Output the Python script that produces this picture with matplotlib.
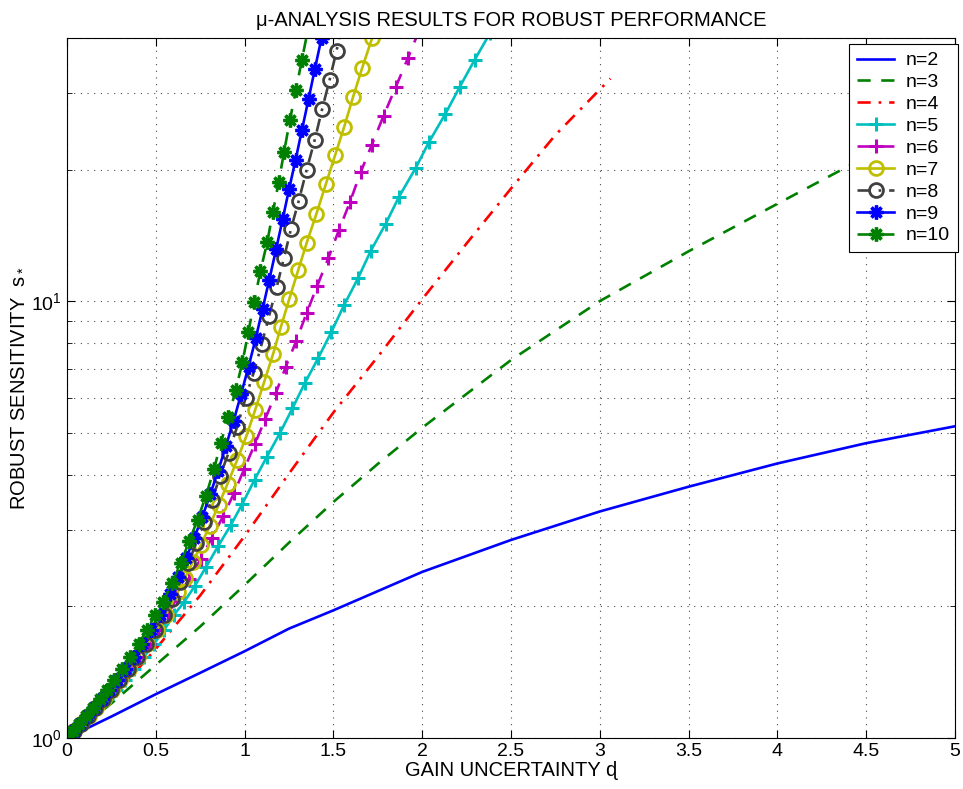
import matplotlib.pyplot as plt
from matplotlib.ticker import FixedLocator, LogLocator, NullFormatter

plt.rcParams['font.family'] = ['Liberation Sans', 'DejaVu Sans']

# gain uncertainty d (x) and robust sensitivity s* (y), one pair per order n
d2 = [0, 0.25, 0.5, 0.75, 1.0, 1.25, 1.5, 2.0, 2.5, 3.0, 3.5, 4.0, 4.5, 5.0]
s2 = [1.0, 1.12, 1.26, 1.41, 1.58, 1.78, 1.96, 2.40, 2.84, 3.30, 3.76, 4.25, 4.73, 5.17]

d3 = [0, 0.25, 0.5, 0.75, 1.0, 1.25, 1.5, 1.75, 2.0, 2.5, 3.0, 3.5, 4.0, 4.5, 5.0]
s3 = [1.0, 1.20, 1.47, 1.80, 2.24, 2.80, 3.47, 4.24, 5.13, 7.33, 10.0, 13.0, 16.7, 21.4, 26.9]

d4 = [0, 0.25, 0.5, 0.75, 1.0, 1.25, 1.5, 1.75, 2.0, 2.25, 2.5, 2.75, 3.06]
s4 = [1.0, 1.23, 1.60, 2.12, 2.90, 4.03, 5.56, 7.46, 10.1, 13.55, 18.1, 24.0, 32.3]

d5 = [0, 0.043, 0.085, 0.132, 0.177, 0.227, 0.274, 0.324, 0.379, 0.434, 0.490, 0.548, 0.603,
      0.660, 0.720, 0.782, 0.851, 0.922, 0.988, 1.056, 1.125, 1.198, 1.269, 1.339, 1.413,
      1.488, 1.560, 1.638, 1.711, 1.794, 1.869, 1.963, 2.038, 2.131, 2.212, 2.296, 2.381]
s5 = [1.0, 1.038, 1.077, 1.123, 1.172, 1.228, 1.288, 1.359, 1.440, 1.534, 1.643, 1.769, 1.915,
      2.05, 2.23, 2.46, 2.75, 3.07, 3.44, 3.90, 4.40, 4.98, 5.68, 6.49, 7.39,
      8.49, 9.79, 11.27, 13.05, 15.02, 17.32, 20.16, 23.12, 26.85, 30.96, 35.7, 41.0]

d6 = [0, 0.040, 0.080, 0.124, 0.166, 0.213, 0.257, 0.304, 0.355, 0.407, 0.460, 0.514, 0.566,
      0.622, 0.688, 0.754, 0.816, 0.881, 0.941, 0.997, 1.057, 1.115, 1.175, 1.232, 1.291,
      1.349, 1.409, 1.471, 1.531, 1.593, 1.653, 1.717, 1.782, 1.850, 1.920, 1.987]
s6 = [1.0, 1.038, 1.077, 1.123, 1.172, 1.228, 1.288, 1.359, 1.440, 1.534, 1.643, 1.769, 1.915,
      2.10, 2.316, 2.574, 2.875, 3.23, 3.64, 4.12, 4.70, 5.36, 6.15, 7.08, 8.11,
      9.39, 10.84, 12.53, 14.54, 16.84, 19.71, 22.82, 26.53, 30.83, 36.03, 42.06]

d7 = [0, 0.040, 0.079, 0.122, 0.163, 0.209, 0.253, 0.299, 0.350, 0.401, 0.453, 0.506, 0.557,
      0.624, 0.665, 0.709, 0.755, 0.803, 0.854, 0.904, 0.957, 1.010, 1.059, 1.110, 1.160,
      1.204, 1.252, 1.301, 1.350, 1.404, 1.457, 1.509, 1.561, 1.610, 1.662, 1.719, 1.770]
s7 = [1.0, 1.038, 1.077, 1.123, 1.172, 1.228, 1.288, 1.359, 1.440, 1.534, 1.643, 1.769, 1.915,
      2.16, 2.33, 2.53, 2.77, 3.06, 3.42, 3.82, 4.32, 4.91, 5.63, 6.53, 7.56,
      8.72, 10.13, 11.75, 13.61, 15.83, 18.50, 21.54, 25.08, 29.26, 34.18, 40.11, 46.99]

d8 = [0, 0.039, 0.077, 0.119, 0.160, 0.205, 0.247, 0.293, 0.342, 0.392, 0.443, 0.495, 0.545,
      0.592, 0.637, 0.682, 0.727, 0.772, 0.817, 0.862, 0.910, 0.958, 1.006, 1.051, 1.096,
      1.138, 1.180, 1.222, 1.261, 1.305, 1.349, 1.394, 1.437, 1.478, 1.518, 1.551]
s8 = [1.0, 1.038, 1.077, 1.123, 1.172, 1.228, 1.288, 1.359, 1.440, 1.534, 1.643, 1.769, 1.915,
      2.08, 2.28, 2.51, 2.79, 3.12, 3.51, 3.98, 4.50, 5.16, 6.01, 6.86, 7.97,
      9.25, 10.75, 12.57, 14.63, 16.98, 19.95, 23.32, 27.56, 32.02, 37.44, 43.87]

d9 = [0, 0.037, 0.074, 0.114, 0.153, 0.196, 0.237, 0.281, 0.328, 0.375, 0.424, 0.474, 0.522,
      0.581, 0.626, 0.671, 0.716, 0.761, 0.806, 0.851, 0.894, 0.938, 0.980, 1.022, 1.063,
      1.101, 1.139, 1.177, 1.214, 1.250, 1.287, 1.323, 1.360, 1.396, 1.433, 1.450]
s9 = [1.0, 1.038, 1.077, 1.123, 1.172, 1.228, 1.288, 1.359, 1.440, 1.534, 1.643, 1.769, 1.915,
      2.14, 2.34, 2.58, 2.87, 3.20, 3.61, 4.09, 4.65, 5.32, 6.12, 7.08, 8.23,
      9.59, 11.20, 13.13, 15.38, 18.02, 21.06, 24.67, 28.99, 34.05, 40.0, 46.7]

d10 = [0, 0.035, 0.070, 0.109, 0.146, 0.187, 0.226, 0.267, 0.312, 0.357, 0.404, 0.451, 0.497,
       0.540, 0.591, 0.641, 0.688, 0.735, 0.782, 0.828, 0.866, 0.909, 0.950, 0.988, 1.021,
       1.053, 1.089, 1.127, 1.159, 1.192, 1.222, 1.255, 1.289, 1.322, 1.358]
s10 = [1.0, 1.038, 1.077, 1.123, 1.172, 1.228, 1.288, 1.359, 1.440, 1.534, 1.643, 1.769, 1.915,
       2.05, 2.26, 2.52, 2.82, 3.162, 3.58, 4.13, 4.74, 5.44, 6.26, 7.26, 8.49,
       9.93, 11.72, 13.63, 15.97, 18.75, 21.93, 25.97, 30.44, 35.57, 42.1]

x_ticks = [0, 0.5, 1, 1.5, 2, 2.5, 3, 3.5, 4, 4.5, 5]
x_ticklabels = ['0', '0.5', '1', '1.5', '2', '2.5', '3', '3.5', '4', '4.5', '5']

fig = plt.figure(figsize=(9.63, 7.89), dpi=100)
ax = fig.add_axes([0.0696, 0.0646, 0.9221, 0.8872])

lw = 1.9
ax.plot(d2, s2, color=(0, 0, 1), lw=lw, label='n=2')
ax.plot(d3, s3, color=(0, 0.5, 0), lw=lw, ls=(0, (5, 4)), label='n=3')
ax.plot(d4, s4, color=(1, 0, 0), lw=lw, ls=(0, (5, 3, 1, 3)), label='n=4')
ax.plot(d5, s5, color=(0, 0.75, 0.75), lw=lw, marker='+', ms=10, mew=2.2, label='n=5')
ax.plot(d6, s6, color=(0.75, 0, 0.75), lw=lw, ls=(0, (5, 4)), marker='+', ms=10, mew=2.2,
        label='n=6')
ax.plot(d7, s7, color=(0.75, 0.75, 0), lw=lw, marker='o', ms=10, mew=2.0, mfc='none',
        label='n=7')
ax.plot(d8, s8, color=(0.25, 0.25, 0.25), lw=lw, ls=(0, (5, 3, 1, 3)), marker='o', ms=10,
        mew=2.0, mfc='none', label='n=8')
ax.plot(d9, s9, color=(0, 0, 1), lw=lw, marker=(8, 2, 0), ms=10, mew=2.4, label='n=9')
ax.plot(d10, s10, color=(0, 0.5, 0), lw=lw, ls=(0, (5, 4)), marker=(8, 2, 0), ms=10, mew=2.4,
        label='n=10')

ax.set_yscale('log')
ax.set_xlim(0, 5)
ax.set_ylim(1, 40)
ax.set_xticks(x_ticks)
ax.set_xticklabels(x_ticklabels)
ax.yaxis.set_major_locator(FixedLocator([1, 10]))
ax.yaxis.set_minor_locator(LogLocator(subs=range(2, 10)))
ax.yaxis.set_minor_formatter(NullFormatter())

ax.tick_params(which='both', direction='in', top=True, right=True, labelsize=14)
ax.tick_params(which='major', length=6, width=0.8)
ax.tick_params(which='minor', length=3.5, width=0.6)

grid_style = dict(color='0.3', linestyle=(0, (1, 5)), linewidth=0.8)
ax.grid(True, which='major', axis='x', **grid_style)
ax.grid(True, which='both', axis='y', **grid_style)

ax.set_title('μ-ANALYSIS RESULTS FOR ROBUST PERFORMANCE', fontsize=14.5, pad=9)
ax.set_xlabel('GAIN UNCERTAINTY ɖ', fontsize=14.5, labelpad=1)
ax.set_ylabel(r'ROBUST SENSITIVITY  $\mathregular{s_*}$', fontsize=14.5, labelpad=4)

leg = ax.legend(loc='upper right', bbox_to_anchor=(1.003, 0.9915), borderaxespad=0,
                fontsize=14, handlelength=1.9, handletextpad=0.6, labelspacing=0.22,
                fancybox=False, framealpha=1, edgecolor='black', borderpad=0.4)
leg.get_frame().set_linewidth(0.8)

fig.savefig('out.png', dpi=100)
